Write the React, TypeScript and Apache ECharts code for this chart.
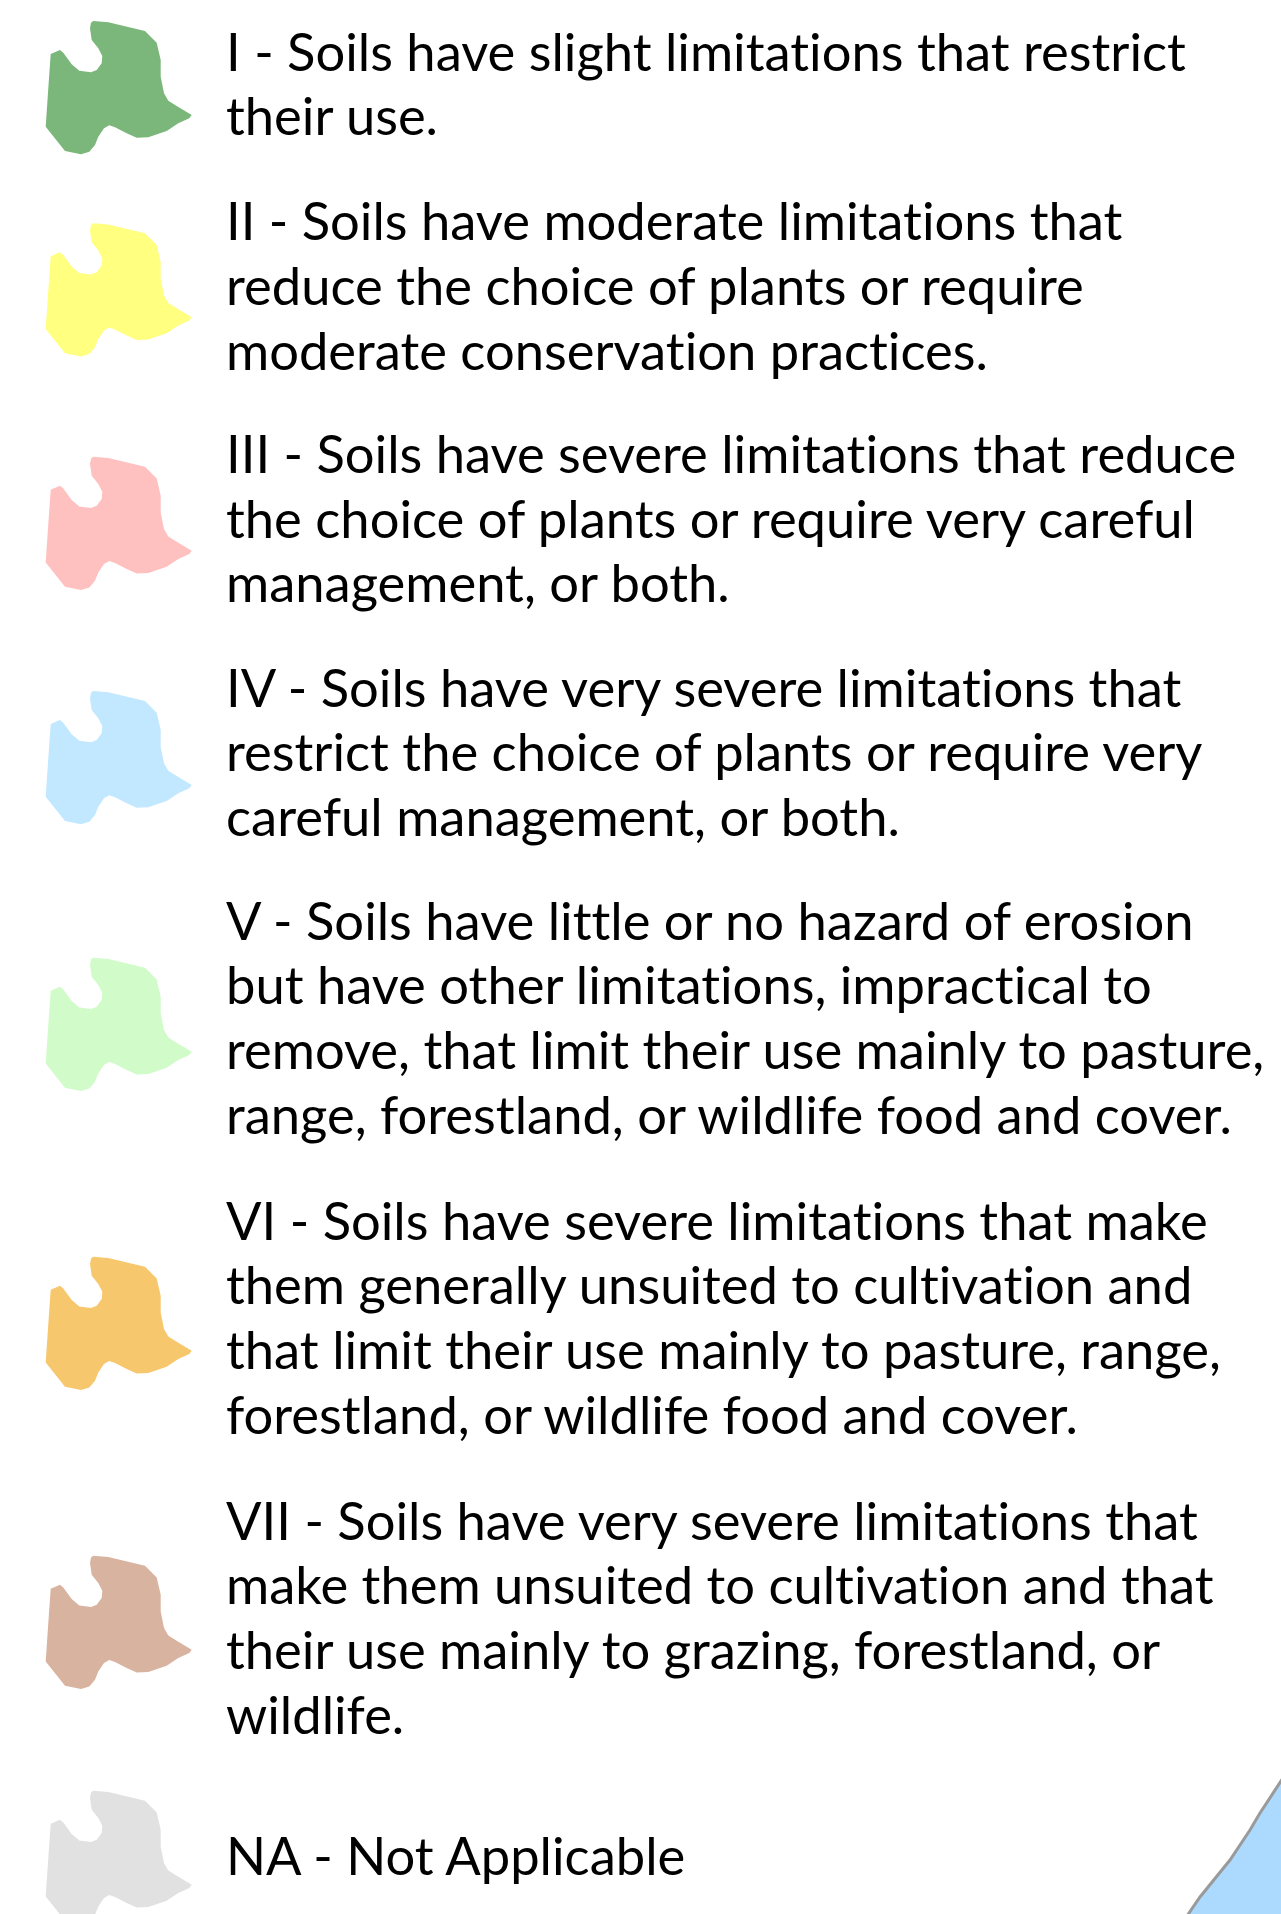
import React, { useEffect, useRef } from "react";
import * as echarts from "echarts";

// Land capability classes (legend)
const CLASS_CODES = ["I", "II", "III", "IV", "V", "VI", "VII", "NA"];
const CLASS_COLORS = ["#7bb77b", "#ffff80", "#ffc0c0", "#c2e8ff", "#d1fbc9", "#f7c76e", "#d8b4a0", "#e1e1e1"];
const CLASS_LINES: string[][] = [
  ["I - Soils have slight limitations that restrict", "their use."],
  ["II - Soils have moderate limitations that", "reduce the choice of plants or require", "moderate conservation practices."],
  ["III - Soils have severe limitations that reduce", "the choice of plants or require very careful", "management, or both."],
  ["IV - Soils have very severe limitations that", "restrict the choice of plants or require very", "careful management, or both."],
  ["V - Soils have little or no hazard of erosion", "but have other limitations, impractical to", "remove, that limit their use mainly to pasture,", "range, forestland, or wildlife food and cover."],
  ["VI - Soils have severe limitations that make", "them generally unsuited to cultivation and", "that limit their use mainly to pasture, range,", "forestland, or wildlife food and cover."],
  ["VII - Soils have very severe limitations that", "make them unsuited to cultivation and that", "their use mainly to grazing, forestland, or", "wildlife."],
  ["NA - Not Applicable"],
];

// layout
const BLOCK_BASELINES = [70, 239.5, 472.3, 706, 939, 1239, 1539, 1874.5];
const SHAPE_TOPS = [21, 223.3, 456.7, 691, 957.7, 1256.7, 1555.7, 1790.7];
const LINE_GAP = 64.7;
const TEXT_X = 226;
const FONT_SIZE = 52.5;
const FONT = "Lato";

// patch glyph outline (absolute for the first patch, top at y=21)
const PATCH: number[][] = [
  [93.3, 21], [108.3, 22.3], [145, 31], [156.7, 42.7], [160.7, 60], [160.7, 76.7], [164, 93.3],
  [168.3, 100.7], [176.7, 106], [191.7, 115], [189.3, 118.3], [178.3, 123.3], [166.7, 131],
  [148.3, 137.3], [136.7, 137.7], [126.7, 133.3], [115, 127.3], [109.3, 125.3], [104, 128.3],
  [98.3, 136.7], [95, 145], [89.3, 151.7], [81, 154.3], [65, 151], [45.7, 126.7], [48.3, 88.3],
  [50.7, 54], [60, 50], [63.3, 52.7], [71.7, 64.3], [79.3, 70.7], [91, 72.3], [96.7, 70],
  [101.7, 63.3], [102.3, 56], [98.3, 48.3], [91.7, 40], [90, 28.3], [91, 22.7],
];

const LAKE: number[][] = [
  [1187, 1916], [1200, 1897], [1230, 1860], [1250, 1830], [1260, 1813], [1283, 1778], [1283, 1916],
];

export default function App() {
  const ref = useRef<HTMLDivElement>(null);
  useEffect(() => {
    document.body.style.margin = "0";
    if (!ref.current) return;
    const chart = echarts.init(ref.current, null, { renderer: "svg", width: 1281, height: 1914 });
    const elements: any[] = [];
    CLASS_CODES.forEach((code, i) => {
      elements.push({
        type: "polygon",
        id: "patch-" + code,
        y: SHAPE_TOPS[i] - SHAPE_TOPS[0],
        shape: { points: PATCH },
        style: { fill: CLASS_COLORS[i] },
      });
      CLASS_LINES[i].forEach((line, j) => {
        elements.push({
          type: "text",
          x: TEXT_X,
          y: BLOCK_BASELINES[i] + j * LINE_GAP - 0.36 * FONT_SIZE - 1,
          style: {
            text: line,
            fill: "#000",
            fontFamily: FONT,
            fontSize: FONT_SIZE,
            verticalAlign: "middle",
            align: "left",
          },
        });
      });
    });
    elements.push({
      type: "polygon",
      shape: { points: LAKE },
      style: { fill: "#acdaff", stroke: "#9a9a9a", lineWidth: 3 },
    });
    chart.setOption({
      animation: false,
      backgroundColor: "#ffffff",
      graphic: { elements },
    });
    return () => chart.dispose();
  }, []);
  return (
    <>
      <style>{"svg text{font-variant-ligatures:none;font-feature-settings:'liga' 0;}"}</style>
      <div ref={ref} style={{ width: 1281, height: 1914 }} />
    </>
  );
}
